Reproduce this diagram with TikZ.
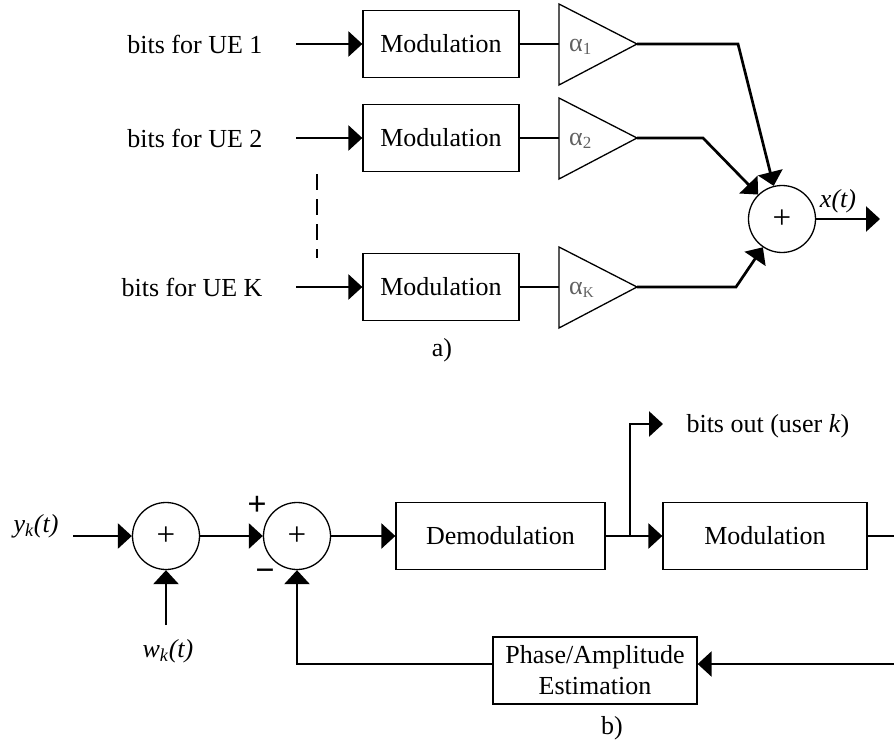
\documentclass[tikz,border=0pt]{standalone}
\usepackage{fontspec}
\setmainfont{Liberation Serif}
\usetikzlibrary{arrows.meta}
\begin{document}
\begin{tikzpicture}[x=1pt,y=-1pt,
  every node/.style={font=\fontsize{26}{31}\selectfont},
  blk/.style={draw, line width=1.3pt, minimum height=67pt, inner sep=0pt},
  amp/.style={draw, line width=1.3pt, line join=miter},
  sumnode/.style={draw, circle, line width=1.3pt, minimum size=67pt, inner sep=0pt,
                  font=\fontsize{33}{33}\selectfont},
  wire/.style={line width=2.7pt},
  sig/.style={wire, -{Triangle[length=14pt,width=25pt]}},
  gain/.style={text=black!62, font=\fontsize{26}{26}\selectfont, anchor=west, inner sep=0pt},
  sgn/.style={inner sep=0pt}]
\useasboundingbox (0,0) rectangle (894,749);

% ---------------- a) transmitter ----------------
\node[anchor=east] (u1) at (266,44) {bits for UE 1};
\node[anchor=east] (u2) at (266,138) {bits for UE 2};
\node[anchor=east] (uK) at (266,287) {bits for UE K};
\coordinate (s1) at (296,44);
\coordinate (s2) at (296,138);
\coordinate (sK) at (296,287);

\node[blk, minimum width=156pt] (m1) at (441,44) {Modulation};
\node[blk, minimum width=156pt] (m2) at (441,138) {Modulation};
\node[blk, minimum width=156pt] (mK) at (441,287) {Modulation};

% gain stages (amplifier triangles)
\coordinate (g1) at (559,44);  \coordinate (g1o) at (637,44);
\coordinate (g2) at (559,138); \coordinate (g2o) at (637,138);
\coordinate (gK) at (559,287); \coordinate (gKo) at (637,287);
\draw[amp] (559,4) -- (g1o) -- (559,85) -- cycle;
\draw[amp] (559,98) -- (g2o) -- (559,179) -- cycle;
\draw[amp] (559,247) -- (gKo) -- (559,328) -- cycle;
\node[gain] (a1) at (569,47) {α\textsubscript{\fontsize{17}{17}\selectfont 1}};
\node[gain] (a2) at (569,141) {α\textsubscript{\fontsize{17}{17}\selectfont 2}};
\node[gain] (aK) at (569,290) {α\textsubscript{\fontsize{15}{15}\selectfont K}};

\node[sumnode] (sum) at (782,219) {+};
\coordinate (xo) at (880,219);
\node (xl) at (838,201) {\textit{x(t)}};

\draw[sig] (s1) -- (m1.west);
\draw[sig] (s2) -- (m2.west);
\draw[sig] (sK) -- (mK.west);
\draw[wire] (m1.east) -- (g1);
\draw[wire] (m2.east) -- (g2);
\draw[wire] (mK.east) -- (gK);
\draw[sig] (g1o) -- (738,44) -- (sum);
\draw[sig] (g2o) -- (703,138) -- (sum);
\draw[sig] (gKo) -- (736,287) -- (sum);
\draw[sig] (sum) -- (xo);
\draw[wire, dash pattern=on 16pt off 9pt] (317,174) -- (317,258);

\node (la) at (442,350) {a)};

% ---------------- b) receiver ----------------
\node (yl) at (36,526) {\textit{y}\textsubscript{\textit{k}}\textit{(t)}};
\coordinate (yin) at (73,536);
\node[sumnode] (c1) at (166,536) {+};
\node[sumnode] (c2) at (297,536) {+};
\coordinate (win) at (166,625);
\node (wl) at (168,651) {\textit{w}\textsubscript{\textit{k}}\textit{(t)}};
\node[sgn, font=\fontsize{34}{34}\selectfont\bfseries] (plus) at (257,506) {+};
\node[sgn, font=\fontsize{34}{34}\selectfont\bfseries] (minus) at (265,575) {−};

\node[blk, minimum width=209pt] (dem) at (500.5,536) {Demodulation};
\node[blk, minimum width=204pt] (mod) at (765,536) {Modulation};
\node[blk, minimum width=204pt, align=center] (pae) at (595,670.5) {Phase/Amplitude\\Estimation};

\coordinate (br) at (630,536);
\coordinate (bo) at (663,424);
\node[anchor=west] (bl) at (683,426) {bits out (user \textit{k})};
\coordinate (re) at (905,536);
\coordinate (fb) at (905,664);

\draw[sig] (yin) -- (c1.west);
\draw[sig] (win) -- (c1.south);
\draw[sig] (c1.east) -- (c2.west);
\draw[sig] (c2.east) -- (dem.west);
\draw[sig] (dem.east) -- (mod.west);
\draw[sig] (br) |- (bo);
\draw[sig] (mod.east) -- (re) -- (fb) -- (pae.east |- fb);
\draw[sig] (pae.west |- fb) -| (c2.south);

\node (lb) at (612,728) {b)};
\end{tikzpicture}
\end{document}
